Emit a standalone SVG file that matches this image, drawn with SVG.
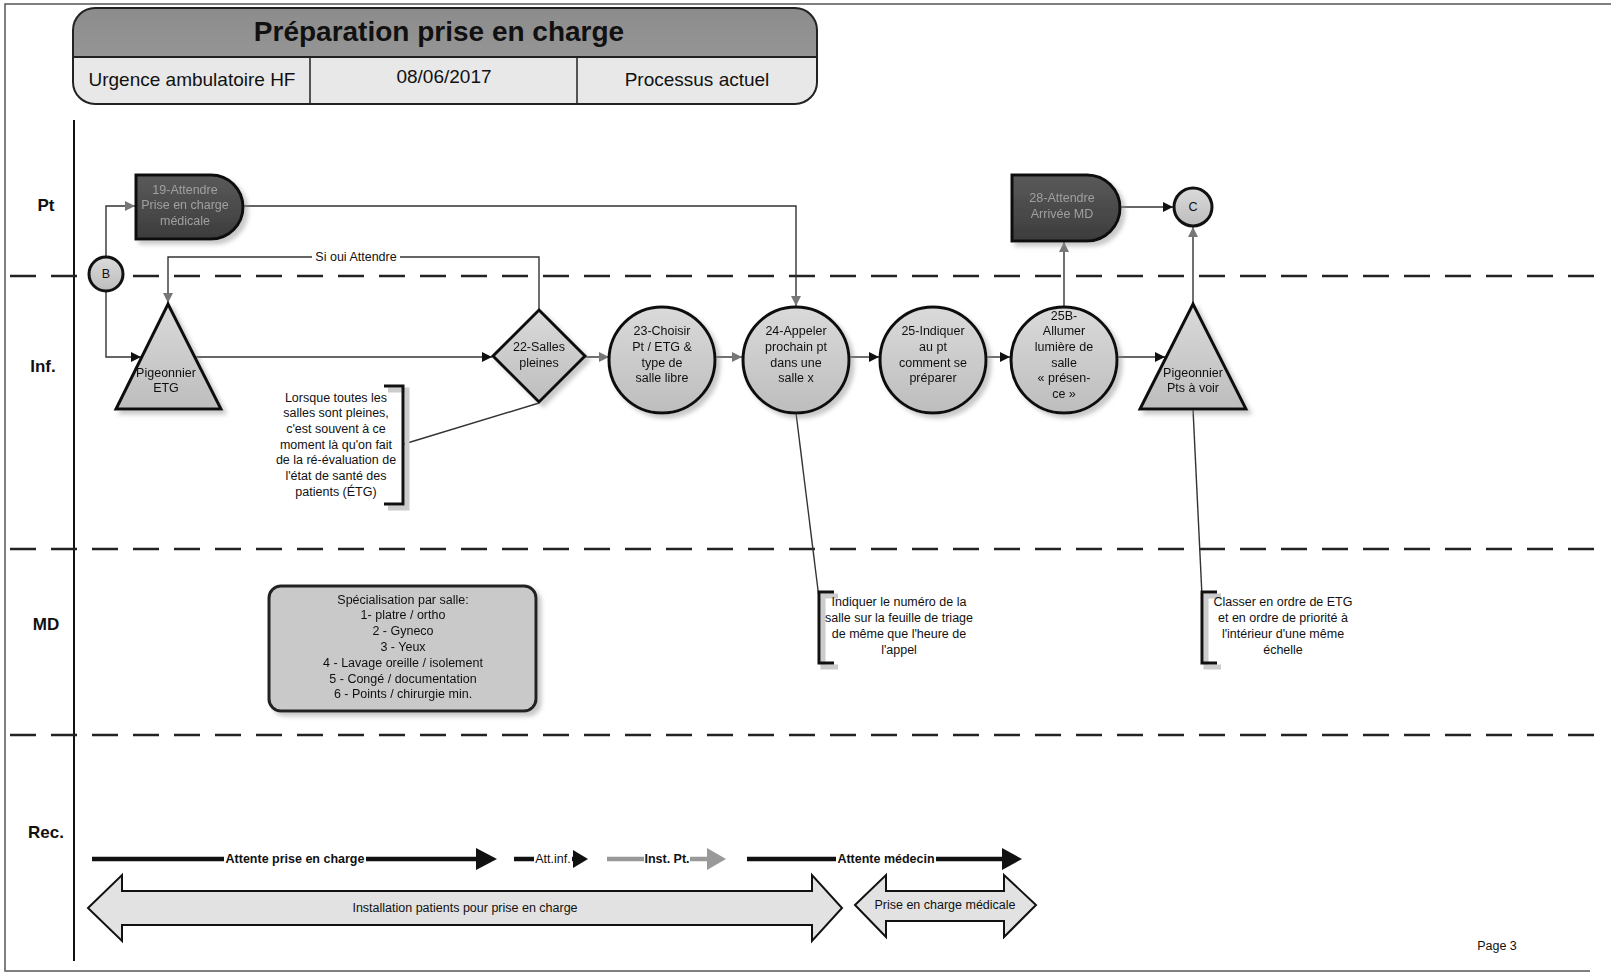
<svg xmlns="http://www.w3.org/2000/svg" width="1611" height="973" viewBox="0 0 1611 973">
<defs>
<style>
.t{font-family:"Liberation Sans",Arial,sans-serif;fill:#111;text-anchor:middle}
.n{font-size:12.5px}
.lane{font-size:17px;font-weight:bold}
.node{fill:url(#lg);stroke:#111;stroke-width:3}
.dark{fill:url(#dg);stroke:#111;stroke-width:3}
.dt{fill:#a0a0a0}
.con{fill:none;stroke:#333;stroke-width:1.4}
.dash{stroke:#222;stroke-width:2.6;stroke-dasharray:26 15}
.br{fill:none;stroke:#111;stroke-width:3}
.brs{fill:none;stroke:#ccc;stroke-width:5}
.rec{stroke-width:4.5}
.dbl{fill:#e2e2e2;stroke:#111;stroke-width:2}
</style>
<linearGradient id="lg" x1="0" y1="0" x2="0" y2="1"><stop offset="0" stop-color="#dadada"/><stop offset="1" stop-color="#bdbdbd"/></linearGradient>
<linearGradient id="dg" x1="0" y1="0" x2="0" y2="1"><stop offset="0" stop-color="#5a5a5a"/><stop offset="1" stop-color="#3c3c3c"/></linearGradient>
<linearGradient id="tg" x1="0" y1="0" x2="0" y2="1"><stop offset="0" stop-color="#8c8c8c"/><stop offset="1" stop-color="#9e9e9e"/></linearGradient>
<filter id="sh" x="-20%" y="-20%" width="150%" height="150%"><feDropShadow dx="4" dy="4" stdDeviation="2" flood-color="#888" flood-opacity="0.45"/></filter>
<clipPath id="band"><rect x="60" y="0" width="800" height="57"/></clipPath>
<marker id="ab" viewBox="0 0 10 10" refX="10" refY="5" markerWidth="10" markerHeight="10" markerUnits="userSpaceOnUse" orient="auto"><path d="M0,0 L10,5 L0,10 z" fill="#111"/></marker>
<marker id="ag" viewBox="0 0 10 10" refX="10" refY="5" markerWidth="10" markerHeight="10" markerUnits="userSpaceOnUse" orient="auto"><path d="M0,0 L10,5 L0,10 z" fill="#777"/></marker>
</defs>
<rect width="1611" height="973" fill="#fff"/>
<g id="frame" stroke="#555" stroke-width="1.5" fill="none">
<path d="M1611,4 H5 V971 H1590"/>
</g>
<g id="title">
<rect x="73" y="8" width="744" height="96" rx="22" fill="#e8e8e8"/>
<rect x="73" y="8" width="744" height="96" rx="22" fill="url(#tg)" clip-path="url(#band)"/>
<rect x="73" y="8" width="744" height="96" rx="22" fill="none" stroke="#222" stroke-width="2"/>
<line x1="73" y1="57" x2="817" y2="57" stroke="#222" stroke-width="2"/>
<line x1="310" y1="57" x2="310" y2="104" stroke="#222" stroke-width="1.5"/>
<line x1="577" y1="57" x2="577" y2="104" stroke="#222" stroke-width="1.5"/>
<text class="t" x="439" y="41" font-size="28" font-weight="bold" fill="#222">Préparation prise en charge</text>
<text class="t" x="192" y="86" font-size="19">Urgence ambulatoire HF</text>
<text class="t" x="444" y="83" font-size="19">08/06/2017</text>
<text class="t" x="697" y="86" font-size="19">Processus actuel</text>
</g>
<g id="lanes">
<line x1="74" y1="120" x2="74" y2="961" stroke="#111" stroke-width="2"/>
<line class="dash" x1="10" y1="276" x2="1600" y2="276"/>
<line class="dash" x1="10" y1="549" x2="1600" y2="549"/>
<line class="dash" x1="10" y1="735" x2="1600" y2="735"/>
<text class="t lane" x="46" y="211">Pt</text>
<text class="t lane" x="43" y="372">Inf.</text>
<text class="t lane" x="46" y="630">MD</text>
<text class="t lane" x="46" y="838">Rec.</text>
</g>
<g id="connectors">
<path class="con" d="M106,257 V206 H135" marker-end="url(#ag)"/>
<path class="con" d="M106,291 V357 H141" marker-end="url(#ab)"/>
<path class="con" d="M243,206 H796 V306" marker-end="url(#ag)"/>
<path class="con" d="M195,357 H492" marker-end="url(#ab)"/>
<path class="con" d="M539,310 V257 H168 V303" marker-end="url(#ag)"/>
<rect x="312" y="250" width="88" height="14" fill="#fff"/>
<text class="t n" x="356" y="261">Si oui Attendre</text>
<path class="con" d="M585,357 H609" marker-end="url(#ag)"/>
<path class="con" d="M715,357 H742" marker-end="url(#ag)"/>
<path class="con" d="M849,357 H879" marker-end="url(#ab)"/>
<path class="con" d="M986,357 H1010" marker-end="url(#ab)"/>
<path class="con" d="M1117,357 H1165" marker-end="url(#ab)"/>
<path class="con" d="M1064,307 V242" marker-end="url(#ag)"/>
<path class="con" d="M1120,207 H1173" marker-end="url(#ab)"/>
<path class="con" d="M1193,304 V227" marker-end="url(#ag)"/>
<path class="con" d="M539,403 L404,444"/>
<path class="con" d="M796,413 L819,598"/>
<path class="con" d="M1193,409 L1202,596"/>
</g>
<g id="nodeB"><circle class="node" cx="106" cy="274" r="17"/><text class="t n" x="106" y="278">B</text></g>
<g id="node19" filter="url(#sh)"><path class="dark" d="M136,175 H211 A32,32 0 0 1 211,239 H136 Z"/>
<text class="t n dt" x="185" y="194">19-Attendre</text><text class="t n dt" x="185" y="209">Prise en charge</text><text class="t n dt" x="185" y="225">médicale</text></g>
<g id="node28" filter="url(#sh)"><path class="dark" d="M1012,175 H1087 A33,33 0 0 1 1087,241 H1012 Z"/>
<text class="t n dt" x="1062" y="202">28-Attendre</text><text class="t n dt" x="1062" y="218">Arrivée MD</text></g>
<g id="nodeC"><circle class="node" cx="1193" cy="207" r="19"/><text class="t n" x="1193" y="211">C</text></g>
<g id="nodeETG" filter="url(#sh)"><path class="node" d="M168,304 L221,409 L116,409 Z"/>
<text class="t n" x="166" y="377">Pigeonnier</text><text class="t n" x="166" y="392">ETG</text></g>
<g id="node22" filter="url(#sh)"><path class="node" d="M539,310 L585,356 L539,402 L493,356 Z"/>
<text class="t n" x="539" y="351">22-Salles</text><text class="t n" x="539" y="367">pleines</text></g>
<g id="node23" filter="url(#sh)"><circle class="node" cx="662" cy="360" r="53"/>
<text class="t n" x="662" y="335">23-Choisir</text><text class="t n" x="662" y="351">Pt / ETG &amp;</text><text class="t n" x="662" y="367">type de</text><text class="t n" x="662" y="382">salle libre</text></g>
<g id="node24" filter="url(#sh)"><circle class="node" cx="796" cy="360" r="53"/>
<text class="t n" x="796" y="335">24-Appeler</text><text class="t n" x="796" y="351">prochain pt</text><text class="t n" x="796" y="367">dans une</text><text class="t n" x="796" y="382">salle x</text></g>
<g id="node25" filter="url(#sh)"><circle class="node" cx="933" cy="360" r="53"/>
<text class="t n" x="933" y="335">25-Indiquer</text><text class="t n" x="933" y="351">au pt</text><text class="t n" x="933" y="367">comment se</text><text class="t n" x="933" y="382">préparer</text></g>
<g id="node25B" filter="url(#sh)"><circle class="node" cx="1064" cy="360" r="53"/>
<text class="t n" x="1064" y="320">25B-</text><text class="t n" x="1064" y="335">Allumer</text><text class="t n" x="1064" y="351">lumière de</text><text class="t n" x="1064" y="367">salle</text><text class="t n" x="1064" y="382">« présen-</text><text class="t n" x="1064" y="398">ce »</text></g>
<g id="nodePts" filter="url(#sh)"><path class="node" d="M1193,304 L1246,409 L1140,409 Z"/>
<text class="t n" x="1193" y="377">Pigeonnier</text><text class="t n" x="1193" y="392">Pts à voir</text></g>
<g id="note1">
<path class="brs" d="M388,390 H407 V508 H388"/>
<path class="br" d="M384,386 H403 V504 H384"/>
<text class="t n" x="336" y="402">Lorsque toutes les</text>
<text class="t n" x="336" y="417">salles sont pleines,</text>
<text class="t n" x="336" y="433">c'est souvent à ce</text>
<text class="t n" x="336" y="449">moment là qu'on fait</text>
<text class="t n" x="336" y="464">de la ré-évaluation de</text>
<text class="t n" x="336" y="480">l'état de santé des</text>
<text class="t n" x="336" y="496">patients (ÉTG)</text>
</g>
<g id="note2">
<path class="brs" d="M838,596 H823 V667 H838"/>
<path class="br" d="M834,592 H819 V663 H834"/>
<text class="t n" x="899" y="606">Indiquer le numéro de la</text>
<text class="t n" x="899" y="622">salle sur la feuille de triage</text>
<text class="t n" x="899" y="638">de même que l'heure de</text>
<text class="t n" x="899" y="654">l'appel</text>
</g>
<g id="note3">
<path class="brs" d="M1221,596 H1206 V667 H1221"/>
<path class="br" d="M1217,592 H1202 V663 H1217"/>
<text class="t n" x="1283" y="606">Classer en ordre de ETG</text>
<text class="t n" x="1283" y="622">et en ordre de priorité à</text>
<text class="t n" x="1283" y="638">l'intérieur d'une même</text>
<text class="t n" x="1283" y="654">échelle</text>
</g>
<g id="spec" filter="url(#sh)">
<rect x="269" y="586" width="267" height="125" rx="12" fill="#c9c9c9" stroke="#222" stroke-width="3"/>
<text class="t n" x="403" y="604">Spécialisation par salle:</text>
<text class="t n" x="403" y="619">1- platre / ortho</text>
<text class="t n" x="403" y="635">2 - Gyneco</text>
<text class="t n" x="403" y="651">3 - Yeux</text>
<text class="t n" x="403" y="667">4 - Lavage oreille / isolement</text>
<text class="t n" x="403" y="683">5 - Congé / documentation</text>
<text class="t n" x="403" y="698">6 - Points / chirurgie min.</text>
</g>
<g id="rec1">
<line class="rec" x1="92" y1="859" x2="478" y2="859" stroke="#111"/>
<path d="M476,848 L497,859 L476,870 Z" fill="#111"/>
<rect x="224" y="851" width="142" height="15" fill="#fff"/>
<text class="t n" x="295" y="863" font-weight="bold">Attente prise en charge</text>
</g>
<g id="rec2">
<line class="rec" x1="514" y1="859" x2="575" y2="859" stroke="#111"/>
<path d="M573,850 L588,859 L573,868 Z" fill="#111"/>
<rect x="534" y="851" width="38" height="15" fill="#fff"/>
<text class="t n" x="553" y="863">Att.inf.</text>
</g>
<g id="rec3">
<line class="rec" x1="607" y1="859" x2="709" y2="859" stroke="#999"/>
<path d="M707,848 L726,859 L707,870 Z" fill="#999"/>
<rect x="644" y="851" width="46" height="15" fill="#fff"/>
<text class="t n" x="667" y="863" font-weight="bold" fill="#555">Inst. Pt.</text>
</g>
<g id="rec4">
<line class="rec" x1="747" y1="859" x2="1004" y2="859" stroke="#111"/>
<path d="M1002,848 L1022,859 L1002,870 Z" fill="#111"/>
<rect x="836" y="851" width="100" height="15" fill="#fff"/>
<text class="t n" x="886" y="863" font-weight="bold">Attente médecin</text>
</g>
<g id="rec5">
<path class="dbl" d="M88,908 L122,875 V891 H812 V875 L842,908 L812,941 V925 H122 V941 Z"/>
<text class="t n" x="465" y="912">Installation patients pour prise en charge</text>
</g>
<g id="rec6">
<path class="dbl" d="M855,905 L886,875 V891 H1004 V875 L1036,905 L1004,937 V921 H886 V937 Z"/>
<text class="t n" x="945" y="909">Prise en charge médicale</text>
</g>
<text class="t n" x="1497" y="950">Page 3</text>
</svg>
